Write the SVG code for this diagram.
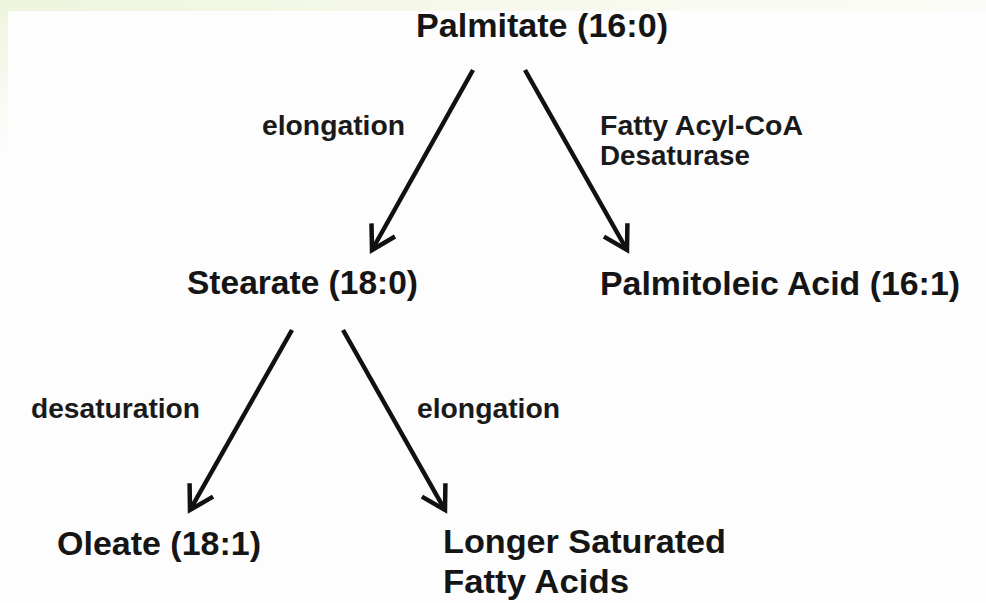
<svg xmlns="http://www.w3.org/2000/svg" width="986" height="603" viewBox="0 0 986 603">
  <style>
    .node { font-family: "Liberation Sans", Arial, sans-serif; font-weight: bold; font-size: 34px; fill: #151515; }
    .lbl { font-family: "Liberation Sans", Arial, sans-serif; font-weight: bold; font-size: 28px; fill: #1a1a1a; }
    .conn { stroke: #111; stroke-width: 4.5; fill: none; }
  </style>
  <defs>
    <linearGradient id="topband" x1="0" y1="0" x2="1" y2="0">
      <stop offset="0" stop-color="#edf5dc"/>
      <stop offset="0.5" stop-color="#f7f9ec"/>
      <stop offset="1" stop-color="#fbfbf7"/>
    </linearGradient>
    <linearGradient id="leftband" x1="0" y1="0" x2="0" y2="1">
      <stop offset="0" stop-color="#edf5dc"/>
      <stop offset="1" stop-color="#fdfdfd"/>
    </linearGradient>
    <marker id="arrow" markerUnits="userSpaceOnUse" markerWidth="40" markerHeight="40" refX="0" refY="0" viewBox="-30 -20 40 40" orient="auto" overflow="visible">
      <path d="M-23,-13.5 L0,0 L-23,13.5" fill="none" stroke="#111" stroke-width="4.5" stroke-linejoin="miter" stroke-linecap="butt"/>
    </marker>
  </defs>

  <rect x="0" y="0" width="986" height="603" fill="#fdfdfd"/>
  <rect x="0" y="0" width="986" height="11" fill="url(#topband)"/>
  <rect x="0" y="0" width="8" height="150" fill="url(#leftband)"/>

  <g id="connectors">
    <line class="conn" x1="473" y1="70" x2="372" y2="250" marker-end="url(#arrow)"/>
    <line class="conn" x1="525" y1="70" x2="627" y2="250" marker-end="url(#arrow)"/>
    <line class="conn" x1="292" y1="330" x2="190" y2="510" marker-end="url(#arrow)"/>
    <line class="conn" x1="343" y1="330" x2="445" y2="510" marker-end="url(#arrow)"/>
    <text class="lbl" x="262" y="135" textLength="143" lengthAdjust="spacingAndGlyphs">elongation</text>
    <text class="lbl" x="600" y="135" textLength="203" lengthAdjust="spacingAndGlyphs">Fatty Acyl-CoA</text>
    <text class="lbl" x="600" y="165" textLength="150" lengthAdjust="spacingAndGlyphs">Desaturase</text>
    <text class="lbl" x="31" y="418" textLength="169" lengthAdjust="spacingAndGlyphs">desaturation</text>
    <text class="lbl" x="417" y="418" textLength="143" lengthAdjust="spacingAndGlyphs">elongation</text>
  </g>

  <g id="palmitate">
    <text class="node" x="416" y="37" textLength="252" lengthAdjust="spacingAndGlyphs">Palmitate (16:0)</text>
  </g>
  <g id="stearate">
    <text class="node" x="187" y="294" textLength="231" lengthAdjust="spacingAndGlyphs">Stearate (18:0)</text>
  </g>
  <g id="palmitoleic">
    <text class="node" x="600" y="295" textLength="360" lengthAdjust="spacingAndGlyphs">Palmitoleic Acid (16:1)</text>
  </g>
  <g id="oleate">
    <text class="node" x="57" y="555" textLength="204" lengthAdjust="spacingAndGlyphs">Oleate (18:1)</text>
  </g>
  <g id="longer">
    <text class="node" x="443" y="553" textLength="283" lengthAdjust="spacingAndGlyphs">Longer Saturated</text>
    <text class="node" x="443" y="593" textLength="186" lengthAdjust="spacingAndGlyphs">Fatty Acids</text>
  </g>
</svg>
